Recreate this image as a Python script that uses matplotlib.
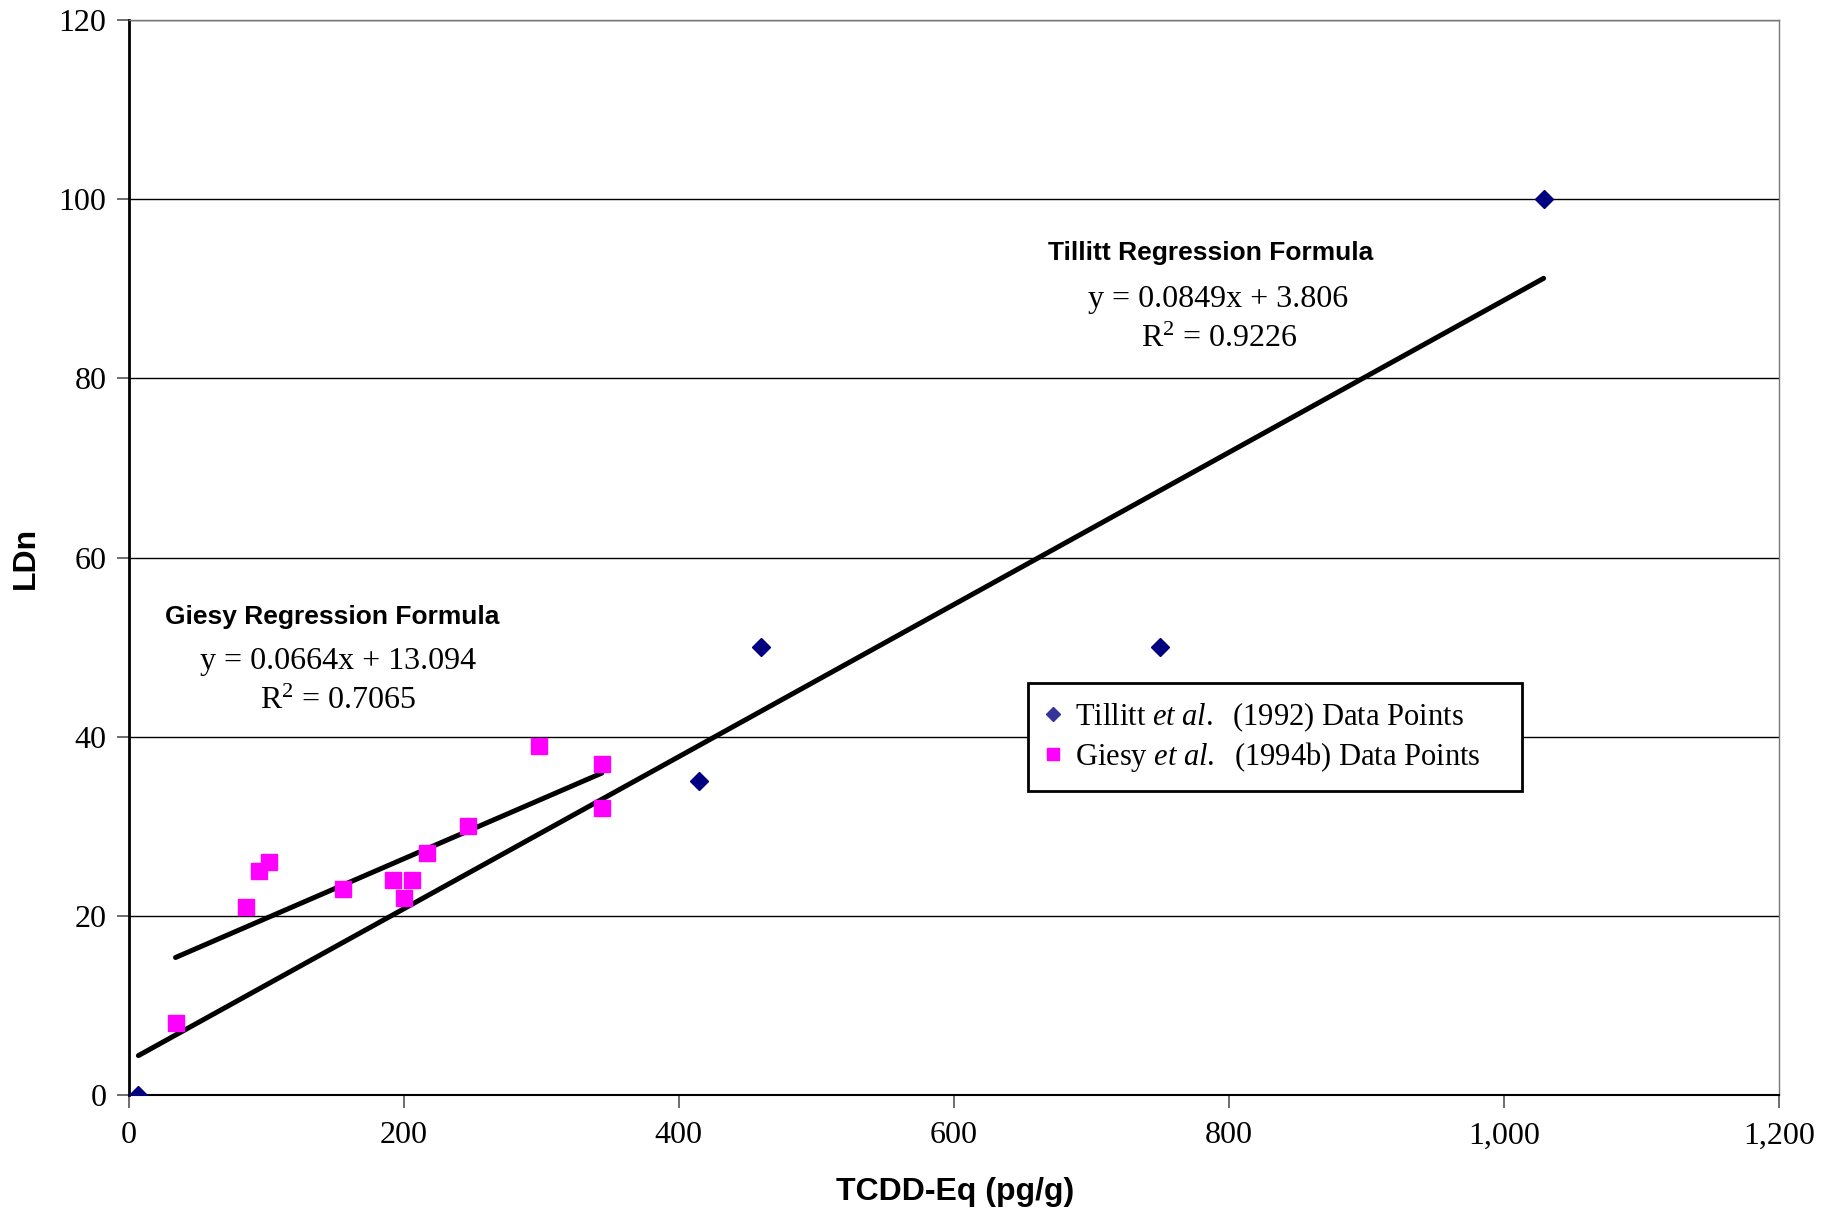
import matplotlib
matplotlib.use('agg')
import matplotlib.pyplot as plt
from matplotlib.ticker import FuncFormatter, MultipleLocator
import numpy as np

# Data
tillitt_x = [7, 415, 460, 750, 1029]
tillitt_y = [0, 35, 50, 50, 100]

giesy_x = [34, 85, 95, 102, 156, 192, 200, 206, 217, 247, 298, 344, 344]
giesy_y = [8, 21, 25, 26, 23, 24, 22, 24, 27, 30, 39, 37, 32]

tillitt_slope, tillitt_icpt, tillitt_r2 = 0.0849, 3.806, 0.9226
giesy_slope, giesy_icpt, giesy_r2 = 0.0664, 13.094, 0.7065

SERIF = ['Liberation Serif', 'DejaVu Serif']
SANS = ['Liberation Sans', 'DejaVu Sans']

plt.rcParams['mathtext.fontset'] = 'custom'
plt.rcParams['mathtext.rm'] = 'Liberation Serif'
plt.rcParams['mathtext.it'] = 'Liberation Serif:italic'

fig = plt.figure(figsize=(18.37, 12.14), dpi=100)
ax = fig.add_axes([0.0701, 0.098, 0.8982, 0.8855])

# Regression lines over the range of each data set
tx = np.array([min(tillitt_x), max(tillitt_x)])
gx = np.array([min(giesy_x), max(giesy_x)])
ax.plot(tx, tillitt_slope * tx + tillitt_icpt, color='black', linewidth=3.6,
        solid_capstyle='round', zorder=3)
ax.plot(gx, giesy_slope * gx + giesy_icpt, color='black', linewidth=3.6,
        solid_capstyle='round', zorder=3)

ax.plot(tillitt_x, tillitt_y, linestyle='none', marker='D', markersize=9,
        color='#000080', zorder=4)
ax.plot(giesy_x, giesy_y, linestyle='none', marker='s', markersize=11.5,
        color='#ff00ff', zorder=4)

ax.set_xlim(0, 1200)
ax.set_ylim(0, 120)
ax.xaxis.set_major_locator(MultipleLocator(200))
ax.yaxis.set_major_locator(MultipleLocator(20))
ax.xaxis.set_major_formatter(FuncFormatter(lambda v, p: '{:,.0f}'.format(v)))

ax.grid(True, axis='y', color='black', linewidth=1.0)
ax.set_axisbelow(True)
for side in ['top', 'right']:
    ax.spines[side].set_color('#777777')
    ax.spines[side].set_linewidth(1.0)
ax.spines['left'].set_linewidth(2.0)
ax.spines['bottom'].set_linewidth(1.5)

ax.tick_params(direction='out', length=9, width=1.2, color='#555555',
               labelsize=23)
ax.tick_params(axis='y', pad=7)
ax.tick_params(axis='x', pad=10)
for lbl in ax.get_xticklabels() + ax.get_yticklabels():
    lbl.set_family(SERIF)

ax.set_xlabel('TCDD-Eq (pg/g)', family=SANS, fontweight='bold', fontsize=23)
ax.set_ylabel('LDn', family=SANS, fontweight='bold', fontsize=23)
ax.xaxis.set_label_coords(0.5009, -0.0898)
ax.xaxis.label.set_va('center')
ax.yaxis.set_label_coords(-0.0624, 0.5)
ax.yaxis.label.set_va('center')

# Regression annotations
ax.text(787, 94.0, 'Tillitt Regression Formula', family=SANS,
        fontweight='bold', fontsize=19, ha='center', va='center')
ax.text(792, 88.8, 'y = {}x + {}'.format(tillitt_slope, tillitt_icpt),
        family=SERIF, fontsize=23, ha='center', va='center')
ax.text(793, 84.4, 'R$^2$ = {}'.format(tillitt_r2), family=SERIF,
        fontsize=23, ha='center', va='center')

ax.text(148, 53.4, 'Giesy Regression Formula', family=SANS,
        fontweight='bold', fontsize=19, ha='center', va='center')
ax.text(152, 48.4, 'y = {}x + {}'.format(giesy_slope, giesy_icpt),
        family=SERIF, fontsize=23, ha='center', va='center')
ax.text(152, 43.9, 'R$^2$ = {}'.format(giesy_r2), family=SERIF,
        fontsize=23, ha='center', va='center')

# Legend, fixed width box
h1, = ax.plot([], [], linestyle='none', marker='D', markersize=7,
              color='#333399')
h2, = ax.plot([], [], linestyle='none', marker='s', markersize=8,
              color='#ff00ff')
leg = ax.legend([h1, h2],
                ['Tillitt $\\it{et\\ al.}$  (1992) Data Points',
                 'Giesy $\\it{et\\ al.}$  (1994b) Data Points'],
                loc='upper left', bbox_to_anchor=(0.5447, 0.2, 0.2996, 0.183),
                mode='expand', prop={'family': SERIF, 'size': 22},
                frameon=True, fancybox=False, edgecolor='black', framealpha=1,
                handlelength=0.55, handletextpad=0.47, borderpad=0.55,
                labelspacing=0.2, borderaxespad=0)
leg.get_frame().set_linewidth(2.0)

fig.savefig('out.png', dpi=100)
